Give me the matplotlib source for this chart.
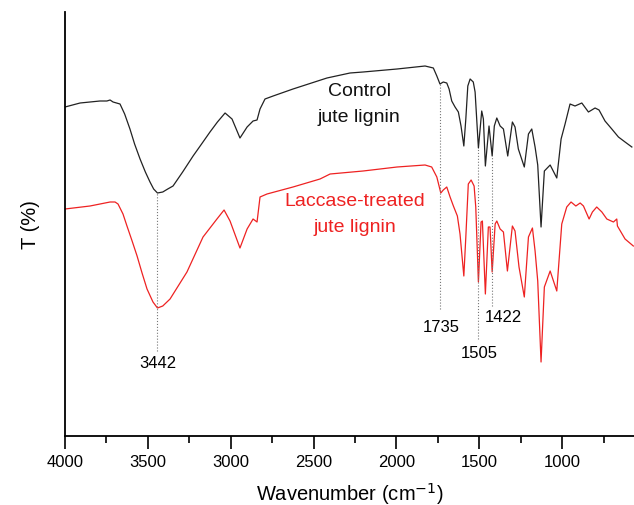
import numpy as np
import matplotlib.pyplot as plt

plt.rcParams['font.family'] = ['Liberation Sans', 'DejaVu Sans']

# FTIR spectra (T in arbitrary units)
wn_control = [4000, 3909, 3789, 3747, 3728, 3710, 3668, 3640, 3608, 3580, 3547, 3515, 3487,
              3465, 3442, 3410, 3380, 3348, 3290, 3227, 3180, 3125, 3080, 3034, 2992, 2944,
              2901, 2865, 2841, 2823, 2793, 2744, 2624, 2419, 2280, 2201, 1996, 1827, 1777,
              1756, 1737, 1717, 1696, 1682, 1666, 1646, 1626, 1610, 1593, 1581, 1569, 1555,
              1536, 1525, 1505, 1485, 1475, 1463, 1441, 1422, 1409, 1394, 1374, 1354, 1328,
              1300, 1284, 1264, 1228, 1203, 1183, 1163, 1147, 1127, 1107, 1072, 1032, 1006,
              982, 952, 922, 881, 841, 801, 777, 741, 700, 660, 620, 579]
t_control = [329, 333, 335, 335, 336, 334, 332, 322, 307, 292, 277, 264, 254,
             247, 243, 244, 247, 250, 264, 280, 291, 304, 314, 323, 317, 298,
             309, 315, 316, 327, 337, 340, 347, 358, 363, 364, 367, 370, 368,
             360, 352, 354, 353, 347, 335, 329, 324, 310, 290, 317, 350, 357,
             354, 344, 288, 325, 317, 270, 310, 280, 310, 318, 310, 307, 280,
             314, 309, 287, 269, 302, 307, 289, 271, 209, 265, 271, 258, 297,
             312, 332, 330, 333, 324, 328, 326, 315, 307, 299, 294, 289]

wn_laccase = [4000, 3849, 3728, 3698, 3680, 3650, 3626, 3595, 3565, 3535, 3505, 3469, 3442,
              3410, 3366, 3264, 3167, 3083, 3040, 3004, 2944, 2901, 2865, 2841, 2823, 2781,
              2624, 2461, 2400, 2201, 1996, 1827, 1787, 1756, 1732, 1717, 1696, 1676, 1656,
              1632, 1616, 1593, 1581, 1566, 1549, 1531, 1521, 1505, 1489, 1481, 1463, 1445,
              1435, 1422, 1404, 1394, 1374, 1354, 1330, 1300, 1284, 1260, 1228, 1203, 1179,
              1163, 1147, 1127, 1107, 1072, 1032, 1002, 972, 946, 917, 891, 871, 837, 817,
              791, 760, 730, 690, 670, 666, 620, 570]
t_laccase = [227, 230, 234, 234, 232, 222, 210, 195, 180, 163, 147, 134, 128,
             130, 137, 164, 199, 217, 226, 215, 188, 207, 217, 214, 239, 242,
             249, 257, 262, 265, 269, 271, 269, 259, 243, 246, 249, 239, 230,
             220, 202, 160, 199, 252, 256, 250, 229, 154, 214, 215, 142, 209,
             209, 164, 212, 215, 207, 204, 165, 210, 205, 169, 139, 199, 208,
             185, 155, 74, 149, 165, 145, 212, 229, 234, 230, 233, 230, 217, 224,
             229, 224, 217, 214, 217, 210, 197, 190]

peaks = [3442, 1735, 1505, 1422]
peak_low = [85, 127, 97, 130]

fig = plt.figure(figsize=(6.34, 5.06), dpi=100)
ax = fig.add_axes([65 / 634, 69 / 506, 1 - 65 / 634, 424 / 506])

ax.plot(wn_control, t_control, color='#222222', lw=0.9)
ax.plot(wn_laccase, t_laccase, color='#ee2222', lw=0.9)

# dotted markers from the control curve down to the labels
wn_c = np.array(wn_control)[::-1]
t_c = np.array(t_control)[::-1]
label_x = {3442: 3442, 1735: 1730, 1505: 1500, 1422: 1356}
label_y = {3442: 74, 1735: 109, 1505: 84, 1422: 119}
for p, lo in zip(peaks, peak_low):
    top = np.interp(p, wn_c, t_c)
    ax.plot([p, p], [lo, top], color='#777777', lw=0.8, ls=':')
    ax.text(label_x[p], label_y[p], str(p), ha='center', va='center', fontsize=12)

ax.text(2225, 345, 'Control', ha='center', va='center', fontsize=14, color='#111111')
ax.text(2225, 320, 'jute lignin', ha='center', va='center', fontsize=14, color='#111111')
ax.text(2250, 235, 'Laccase-treated', ha='center', va='center', fontsize=14, color='#ee2222')
ax.text(2250, 210, 'jute lignin', ha='center', va='center', fontsize=14, color='#ee2222')

ax.set_xlim(4000, 566)
ax.set_ylim(0, 424)
ax.set_xticks(np.arange(4000, 999, -500))
ax.set_xticks(np.arange(3750, 566, -500), minor=True)
ax.tick_params(axis='x', which='major', length=9, width=1.2, labelsize=12, pad=4)
ax.tick_params(axis='x', which='minor', length=5, width=1.2)
ax.set_yticks([])
for s in ['top', 'right']:
    ax.spines[s].set_visible(False)
ax.spines['left'].set_linewidth(1.3)
ax.spines['bottom'].set_linewidth(1.3)

ax.set_xlabel('Wavenumber (cm$^{-1}$)', fontsize=14.5, labelpad=8)
ax.set_ylabel('T (%)', fontsize=14.5, labelpad=18)

fig.savefig('out.png', dpi=100)
